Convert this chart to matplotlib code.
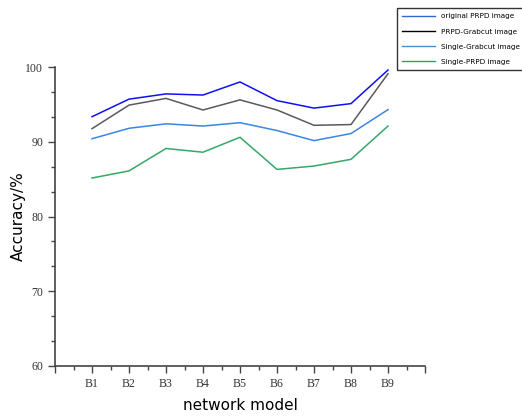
import numpy as np
import matplotlib.pyplot as plt
from matplotlib.lines import Line2D
from matplotlib.ticker import MultipleLocator, FixedLocator

# data
models = ['B1', 'B2', 'B3', 'B4', 'B5', 'B6', 'B7', 'B8', 'B9']
original_prpd = [93.35, 95.7, 96.4, 96.25, 98.0, 95.5, 94.5, 95.1, 99.6]
prpd_grabcut = [91.75, 94.9, 95.8, 94.25, 95.6, 94.25, 92.2, 92.3, 99.1]
single_grabcut = [90.4, 91.8, 92.4, 92.1, 92.55, 91.5, 90.15, 91.1, 94.3]
single_prpd = [85.15, 86.1, 89.1, 88.6, 90.6, 86.3, 86.75, 87.65, 92.1]

labels = ['original PRPD image', 'PRPD-Grabcut image',
          'Single-Grabcut image', 'Single-PRPD image']
line_colors = ['#1010f0', '#5a5a5a', '#3a86e0', '#35a866']
legend_colors = ['#3566d0', '#000000', '#4a90d0', '#22a85a']

fig = plt.figure(figsize=(5.22, 4.17), dpi=100)
ax = fig.add_axes([55/522, 1-366/417, 370/522, 299/417])

x = np.arange(1, len(models) + 1)
for vals, c in zip([original_prpd, prpd_grabcut, single_grabcut, single_prpd], line_colors):
    ax.plot(x, vals, color=c, lw=1.1)

ax.set_xlim(0, 10)
ax.set_ylim(60, 100)
ax.xaxis.set_major_locator(FixedLocator(range(0, 11)))
ax.set_xticklabels([''] + models + [''])
ax.xaxis.set_minor_locator(MultipleLocator(0.5))
ax.yaxis.set_major_locator(MultipleLocator(10))
ax.yaxis.set_minor_locator(MultipleLocator(10/3))

for s in ['top', 'right']:
    ax.spines[s].set_visible(False)
for s in ['left', 'bottom']:
    ax.spines[s].set_color('#444444')
    ax.spines[s].set_linewidth(1.2)

ax.tick_params(which='major', length=5, width=1, color='#444444',
               labelsize=8.5, labelcolor='#333333')
ax.tick_params(which='minor', length=3, width=1, color='#444444')
for t in ax.get_xticklabels() + ax.get_yticklabels():
    t.set_family('Liberation Serif')

ax.set_xlabel('network model', fontsize=11)
ax.set_ylabel('Accuracy/%', fontsize=11)
ax.xaxis.set_label_coords(0.5, -39/299, transform=ax.transAxes)
ax.yaxis.set_label_coords(-37/370, 0.5, transform=ax.transAxes)
ax.xaxis.label.set_va('center')
ax.yaxis.label.set_va('center')

handles = [Line2D([], [], color=c, lw=1) for c in legend_colors]
leg = fig.legend(handles, labels, loc='upper left',
                 bbox_to_anchor=(393/522, 1-4/417), fontsize=5.2,
                 frameon=True, fancybox=False, edgecolor='black',
                 handlelength=4.5, labelspacing=1.25, borderpad=0.8)
leg.get_frame().set_linewidth(1)

fig.savefig('out.png', dpi=100)
